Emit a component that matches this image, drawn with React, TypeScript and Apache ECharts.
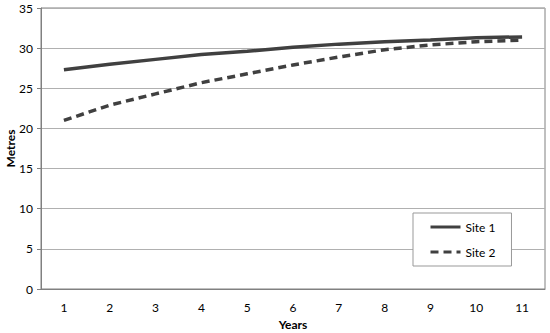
import React, { useEffect, useRef } from "react";
import * as echarts from "echarts";

const years = ["1", "2", "3", "4", "5", "6", "7", "8", "9", "10", "11"];
const site1 = [27.3, 28.0, 28.6, 29.2, 29.6, 30.1, 30.5, 30.8, 31.0, 31.3, 31.4];
const site2 = [21.0, 22.9, 24.3, 25.7, 26.8, 27.9, 28.9, 29.8, 30.4, 30.8, 31.0];

const FONT = "Lato, 'Open Sans', sans-serif";

export default function App() {
  const ref = useRef<HTMLDivElement>(null);
  useEffect(() => {
    if (!ref.current) return;
    const chart = echarts.init(ref.current, null, { renderer: "svg" });
    chart.setOption({
      animation: false,
      backgroundColor: "#fff",
      textStyle: { fontFamily: FONT },
      grid: {
        left: 41,
        right: 5,
        top: 8,
        bottom: 44,
        containLabel: false,
        outerBoundsMode: "none",
        show: true,
        borderColor: "#808080",
        borderWidth: 1,
      },
      legend: {
        orient: "vertical",
        left: 413,
        top: 213,
        padding: [8, 16, 8, 16],
        itemGap: 13,
        itemWidth: 30,
        itemHeight: 14,
        borderColor: "#999",
        borderWidth: 1,
        backgroundColor: "#fff",
        itemStyle: { opacity: 0 },
        lineStyle: { width: 3 },
        textStyle: { fontFamily: FONT, fontSize: 12, color: "#000" },
        data: ["Site 1", "Site 2"],
      },
      xAxis: {
        type: "category",
        data: years,
        boundaryGap: true,
        name: "Years",
        nameLocation: "middle",
        nameGap: 29,
        nameTextStyle: { fontFamily: FONT, fontWeight: "bold", fontSize: 12, color: "#000" },
        axisLine: { lineStyle: { color: "#808080", width: 1 } },
        axisTick: { show: false },
        axisLabel: { fontFamily: FONT, fontSize: 12, color: "#000", margin: 12 },
      },
      yAxis: {
        type: "value",
        min: 0,
        max: 35,
        interval: 5,
        name: "Metres",
        nameLocation: "middle",
        nameGap: 25,
        nameMoveOverlap: false,
        nameTextStyle: { fontFamily: FONT, fontWeight: "bold", fontSize: 12, color: "#000" },
        axisLine: { show: true, lineStyle: { color: "#808080", width: 1 } },
        axisTick: { show: true, length: 4, lineStyle: { color: "#808080" } },
        axisLabel: { fontFamily: FONT, fontSize: 12, color: "#000", margin: 8 },
        splitLine: { show: true, lineStyle: { color: "#b0b0b0", width: 1 } },
      },
      series: [
        {
          name: "Site 1",
          type: "line",
          data: site1,
          showSymbol: false,
          symbol: "none",
          lineStyle: { color: "#404040", width: 3.5 },
          itemStyle: { color: "#404040" },
        },
        {
          name: "Site 2",
          type: "line",
          data: site2,
          showSymbol: false,
          symbol: "none",
          lineStyle: { color: "#404040", width: 3.5, type: [8, 5] },
          itemStyle: { color: "#404040" },
        },
      ],
    });
    return () => chart.dispose();
  }, []);
  return <div ref={ref} style={{ width: 550, height: 333, position: "absolute", left: 0, top: 0 }} />;
}
